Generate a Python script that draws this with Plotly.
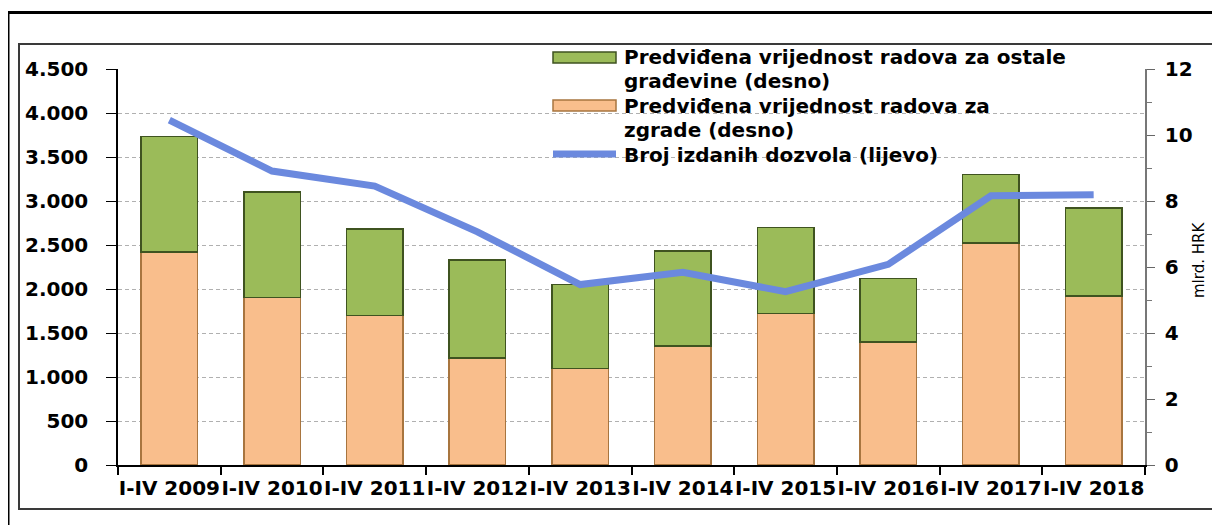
import plotly.graph_objects as go

# data
periods = ["I-IV 2009", "I-IV 2010", "I-IV 2011", "I-IV 2012", "I-IV 2013",
           "I-IV 2014", "I-IV 2015", "I-IV 2016", "I-IV 2017", "I-IV 2018"]
zgrade = [6.45, 5.07, 4.53, 3.25, 2.93, 3.60, 4.59, 3.73, 6.72, 5.12]          # mlrd. HRK
ostale = [3.50, 3.20, 2.62, 2.96, 2.54, 2.88, 2.61, 1.92, 2.08, 2.67]          # mlrd. HRK
dozvole = [3920, 3340, 3170, 2650, 2050, 2190, 1970, 2280, 3060, 3070]         # broj

legend_lines = [
    ("Predviđena vrijednost radova za ostale", "građevine (desno)"),
    ("Predviđena vrijednost radova za", "zgrade (desno)"),
    ("Broj izdanih dozvola (lijevo)",),
]

W, H = 1220, 525
OFF = 8                           # page body margin
L, R, T, B = 118, 1145, 69, 465   # plot area as seen on the page


def px(x):
    return (x - L) / (R - L)


def py(y):
    return (B - y) / (B - T)


GREEN = "#9BBB59"
ORANGE = "#F9BE8C"
BLUE = "#6B89DE"
tick_font = dict(family="DejaVu Sans", size=20, color="black", weight="bold")

fig = go.Figure()
fig.add_trace(go.Bar(x=periods, y=zgrade, name="zgrade", yaxis="y", width=0.55,
                     marker=dict(color=ORANGE, line=dict(color="#a8753f", width=1.5))))
fig.add_trace(go.Bar(x=periods, y=ostale, name="ostale", yaxis="y", width=0.55,
                     marker=dict(color=GREEN, line=dict(color="#3f5320", width=1.5))))
fig.add_trace(go.Scatter(x=periods, y=dozvole, name="dozvole", yaxis="y2", mode="lines",
                         line=dict(color=BLUE, width=7)))

# frames
fig.add_shape(type="rect", xref="paper", yref="paper", x0=px(8), x1=px(1240), y0=py(12.5), y1=py(540),
              line=dict(color="black", width=3), layer="above")
fig.add_shape(type="rect", xref="paper", yref="paper", x0=px(19), x1=px(1219), y0=py(44), y1=py(509),
              line=dict(color="#3a3a3a", width=2), layer="above")

# legend drawn by hand (long swatches like the original)
leg_font = dict(family="DejaVu Sans", size=20, color="black", weight="bold")
sx0, sx1, tx = 553, 616, 622
fig.add_shape(type="rect", xref="paper", yref="paper", x0=px(sx0), x1=px(sx1), y0=py(52), y1=py(63),
              fillcolor=GREEN, line=dict(color="#3f5320", width=1.5))
fig.add_shape(type="rect", xref="paper", yref="paper", x0=px(sx0), x1=px(sx1), y0=py(100), y1=py(111),
              fillcolor=ORANGE, line=dict(color="#a8753f", width=1.5))
fig.add_shape(type="line", xref="paper", yref="paper", x0=px(sx0), x1=px(sx1), y0=py(154), y1=py(154),
              line=dict(color=BLUE, width=7))
row_y = [57, 81, 106, 130, 155]
i = 0
for entry in legend_lines:
    for txt in entry:
        fig.add_annotation(x=px(tx), y=py(row_y[i]), xref="paper", yref="paper", text=txt,
                           showarrow=False, xanchor="left", yanchor="middle", font=leg_font)
        i += 1

# right axis title
fig.add_annotation(x=px(1199), y=py(260), xref="paper", yref="paper", text="mlrd. HRK",
                   textangle=-90, showarrow=False, xanchor="center", yanchor="middle",
                   font=dict(family="DejaVu Sans", size=15, color="black"))

fig.update_layout(
    width=W, height=H,
    margin=dict(l=L - OFF, r=W - R + OFF, t=T - OFF, b=H - B + OFF),
    paper_bgcolor="white", plot_bgcolor="white",
    barmode="stack", showlegend=False,
    separators=",.",
    xaxis=dict(type="category", tickson="boundaries", ticks="outside", ticklen=8, tickwidth=1.5,
               tickcolor="black", showline=True, linecolor="black", linewidth=1.5,
               tickangle=0, tickfont=tick_font, ticklabelstandoff=4, showgrid=False),
    yaxis=dict(side="right", range=[0, 12], dtick=2, ticks="outside", ticklen=8, tickcolor="#666",
               showline=True, linecolor="#777", linewidth=1.5, showgrid=False, zeroline=False,
               tickfont=tick_font, ticklabelstandoff=6,
               minor=dict(dtick=1, ticks="outside", ticklen=5, tickcolor="#777")),
    yaxis2=dict(overlaying="y", side="left", range=[0, 4500], dtick=500, tickformat=",d",
                ticks="outside", ticklen=10, tickcolor="black", showline=True, linecolor="black",
                linewidth=1.5, showgrid=True, gridcolor="#b0b0b0", griddash="4px,3px", gridwidth=1,
                zeroline=False, tickfont=tick_font, ticklabelstandoff=14),
)

fig.write_html("out.html")
